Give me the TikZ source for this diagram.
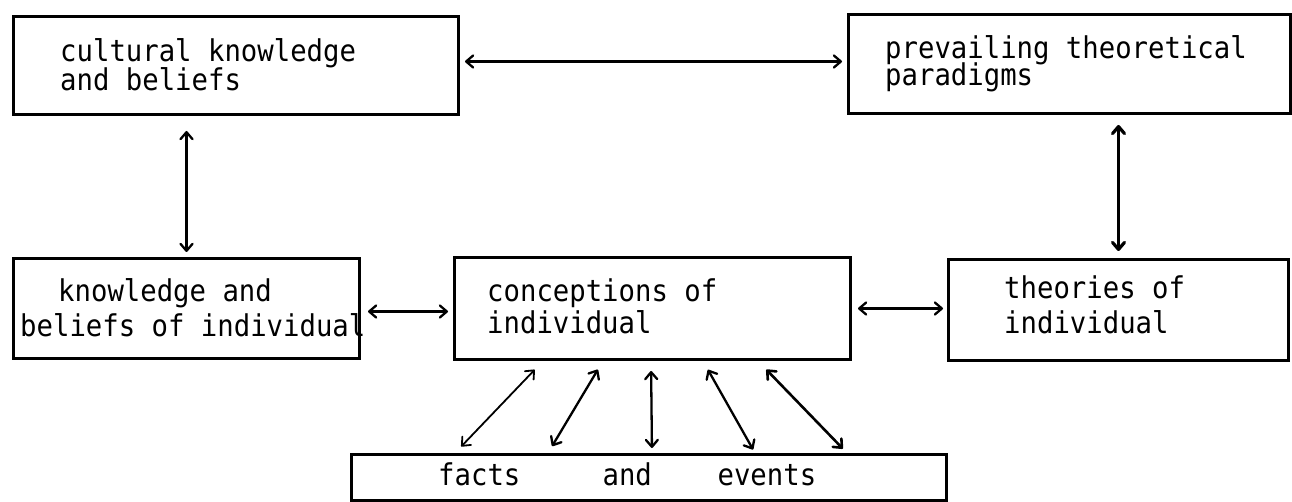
\documentclass[tikz,border=0pt]{standalone}
\usepackage{fontspec}
\newfontfamily\typefont[FakeStretch=0.91]{DejaVu Sans Mono}
\usetikzlibrary{arrows.meta}
\begin{document}
\begin{tikzpicture}[x=1pt,y=-1pt,
  box/.style={draw, line width=3pt, rectangle, inner sep=0pt, anchor=north west},
  txt/.style={inner sep=0pt, anchor=base west, font=\typefont\fontsize{30}{32}\selectfont},
  link/.style={line width=2.3pt, line cap=round, {Straight Barb[length=7pt,width=12pt,line cap=round,line join=round]}-{Straight Barb[length=7pt,width=12pt,line cap=round,line join=round]}},
]
\useasboundingbox (0,0) rectangle (1292,502);

% boxes
\node[box, minimum width=445pt, minimum height=98pt]  (A) at (12,15)   {};
\node[box, minimum width=442pt, minimum height=99pt]  (B) at (847,13)  {};
\node[box, minimum width=346pt, minimum height=100pt] (C) at (12,257)  {};
\node[box, minimum width=396pt, minimum height=102pt] (D) at (453,256) {};
\node[box, minimum width=340pt, minimum height=101pt] (E) at (947,258) {};
\node[box, minimum width=595pt, minimum height=46pt]  (F) at (350,453) {};

% typed labels
\node[txt] (A1) at (60,62)   {cultural knowledge};
\node[txt] (A2) at (60,91)   {and beliefs};
\node[txt] (B1) at (885,59)  {prevailing theoretical};
\node[txt] (B2) at (885,86)  {paradigms};
\node[txt] (C1) at (58,302)  {knowledge and};
\node[txt] (C2) at (20,337)  {beliefs of individual};
\node[txt] (D1) at (487,302) {conceptions of};
\node[txt] (D2) at (487,334) {individual};
\node[txt] (E1) at (1004,299) {theories of};
\node[txt] (E2) at (1004,334) {individual};
\node[txt] (F1) at (438,485) {facts\ \ \ \ \ and\ \ \ \ events};

% horizontal links
\draw[link, shorten <=5pt, shorten >=5pt] ([yshift=4pt]A.east) -- ([yshift=4pt]A.east -| B.west);
\draw[link, shorten <=7pt, shorten >=5pt] ([yshift=-3pt]C.east) -- ([yshift=-3pt]C.east -| D.west);
\draw[link, shorten <=6pt, shorten >=4pt] (D.east) -- (D.east -| E.west);

% vertical links
\draw[link, shorten <=5pt, shorten >=15pt] (C.north) -- (C.north |- A.south);
\draw[link, line width=3.2pt, shorten <=7pt, shorten >=10pt] (E.north) -- (E.north |- B.south);

% fan from facts and events to conceptions
\draw[link, line width=1.8pt, shorten <=9pt, shorten >=12pt] ([xshift=105pt]F.north west) -- ([xshift=90pt]D.south west);
\draw[link, shorten <=8pt, shorten >=10pt] ([xshift=198pt]F.north west) -- ([xshift=150pt]D.south west);
\draw[link, shorten <=5pt, shorten >=10pt] ([xshift=302pt]F.north west) -- ([xshift=198pt]D.south west);
\draw[link, shorten <=4pt, shorten >=10pt] ([xshift=405pt]F.north west) -- ([xshift=250pt]D.south west);
\draw[link, line width=2.6pt, shorten <=6pt, shorten >=12pt] ([xshift=497pt]F.north west) -- ([xshift=305pt]D.south west);
\end{tikzpicture}
\end{document}
